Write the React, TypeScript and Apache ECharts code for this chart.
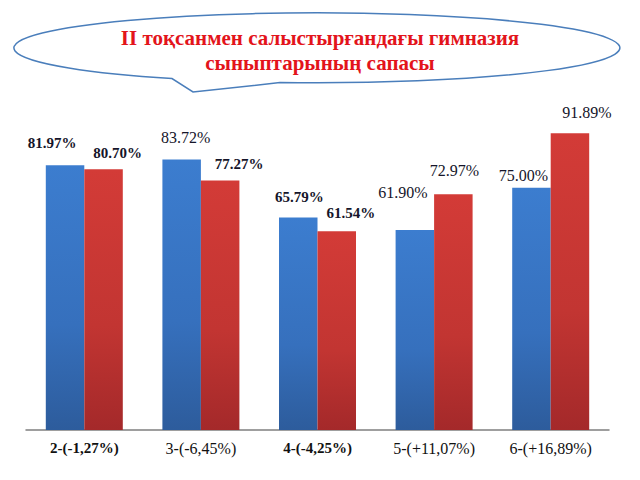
import React, { useEffect, useRef } from "react";
import * as echarts from "echarts";

const categories = ["2-(-1,27%)", "3-(-6,45%)", "4-(-4,25%)", "5-(+11,07%)", "6-(+16,89%)"];
const seriesBlue = [81.97, 83.72, 65.79, 61.9, 75.0];
const seriesRed = [80.7, 77.27, 61.54, 72.97, 91.89];
const titleLines = ["II тоқсанмен салыстырғандағы гимназия", "сыныптарының сапасы"];

// manual label nudges (as placed in the original slide)
const blueLabelOffsets = [[-13, -10], [4, -9], [1, -8], [-12, -25], [-8, 1]];
const redLabelOffsets = [[14, -4], [19, -4], [14, -6], [1, -11], [17, -8]];
const blueLabelBold = [true, false, true, false, false];
const redLabelBold = [true, true, true, false, false];
const categoryBold = [true, false, true, false, false];

const SERIF = "Liberation Serif, Times New Roman, serif";

let registered = false;
function registerCallout() {
  if (registered) return;
  registered = true;
  const d = "M 280 82.6 A 303 35 0 1 0 172 78.6 L 193 92 Z";
  echarts.graphic.registerShape("callout", echarts.graphic.extendPath(d, {}) as any);
}

export default function App() {
  const ref = useRef<HTMLDivElement>(null);
  useEffect(() => {
    if (!ref.current) return;
    registerCallout();
    const chart = echarts.init(ref.current, undefined, { renderer: "svg" });
    const labelBase = {
      show: true,
      position: "top",
      fontFamily: SERIF,
      fontSize: 16,
      color: "#15152a",
      formatter: (p: any) => p.value.toFixed(2) + "%",
    };
    const mk = (vals: number[], offs: number[][], bold: boolean[]) =>
      vals.map((v, i) => ({
        value: v,
        label: { offset: offs[i], fontWeight: bold[i] ? "bold" : "normal", fontSize: bold[i] ? 15 : 16 },
      }));
    chart.setOption({
      animation: false,
      backgroundColor: "#ffffff",
      grid: { left: 26, right: 31, top: 107, bottom: 50 },
      xAxis: {
        type: "category",
        data: categories,
        axisLine: { lineStyle: { color: "#7f7f7f", width: 1.5 } },
        axisTick: { show: false },
        axisLabel: {
          interval: 0,
          fontFamily: SERIF,
          fontSize: 15,
          color: "#111111",
          margin: 10,
          formatter: (v: string, i: number) => (categoryBold[i] ? "{b|" + v + "}" : "{n|" + v + "}"),
          rich: {
            b: { fontFamily: SERIF, fontSize: 15, fontWeight: "bold", color: "#111111" },
            n: { fontFamily: SERIF, fontSize: 16, fontWeight: "normal", color: "#111111" },
          },
        },
      },
      yAxis: {
        type: "value",
        min: 0,
        max: 100,
        show: false,
        splitLine: { show: false },
      },
      series: [
        {
          type: "bar",
          data: mk(seriesBlue, blueLabelOffsets, blueLabelBold),
          barWidth: 38.5,
          barGap: "0%",
          itemStyle: {
            color: new echarts.graphic.LinearGradient(0, 0, 0, 1, [
              { offset: 0, color: "#3c7dcf" },
              { offset: 0.6, color: "#3670bd" },
              { offset: 1, color: "#2d5c9c" },
            ]),
          },
          label: labelBase,
        },
        {
          type: "bar",
          data: mk(seriesRed, redLabelOffsets, redLabelBold),
          barWidth: 38.5,
          itemStyle: {
            color: new echarts.graphic.LinearGradient(0, 0, 0, 1, [
              { offset: 0, color: "#d33b37" },
              { offset: 0.6, color: "#c23532" },
              { offset: 1, color: "#a4292a" },
            ]),
          },
          label: labelBase,
        },
      ],
      graphic: [
        {
          type: "callout",
          x: 0,
          y: 0,
          z: 10,
          shape: {},
          style: { fill: "#ffffff", stroke: "#4a7ebb", lineWidth: 1.5 },
        },
        {
          type: "text",
          x: 320,
          y: 38,
          z: 11,
          style: {
            text: titleLines[0],
            fill: "#e3141b",
            fontFamily: SERIF,
            fontSize: 21,
            fontWeight: "bold",
            textAlign: "center",
            textVerticalAlign: "middle",
          },
        },
        {
          type: "text",
          x: 320,
          y: 63,
          z: 11,
          style: {
            text: titleLines[1],
            fill: "#e3141b",
            fontFamily: SERIF,
            fontSize: 21,
            fontWeight: "bold",
            textAlign: "center",
            textVerticalAlign: "middle",
          },
        },
      ],
    });
    return () => chart.dispose();
  }, []);
  return <div ref={ref} style={{ width: 640, height: 480, position: "absolute", left: 0, top: 0 }} />;
}
